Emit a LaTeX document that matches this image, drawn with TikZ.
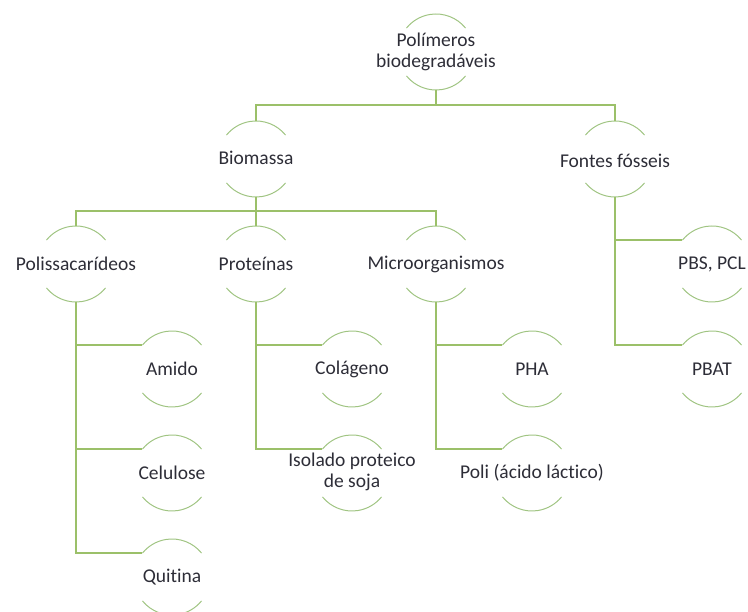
\documentclass[tikz,border=0pt]{standalone}
\usepackage{fontspec}
\setmainfont{Carlito}[Ligatures=NoCommon]
\definecolor{conncol}{RGB}{155,192,105}
\definecolor{arccol}{RGB}{160,196,130}
\definecolor{txtcol}{RGB}{45,45,55}
\tikzset{
  lbl/.style={inner sep=0pt, align=center, text=txtcol, font=\fontsize{19.5}{20.5}\selectfont},
  conn/.style={draw=conncol, line width=1.3pt},
  arcline/.style={draw=arccol, line width=1pt},
}
% name, center, text, text yshift
\newcommand\hierNode[4]{%
  \coordinate (#1) at (#2);
  \node[lbl] (#1-t) at ([yshift=#4]#1) {#3};
  \draw[arcline] ([shift={(39:38)}]#1) arc[start angle=39,end angle=141,radius=38];
  \draw[arcline] ([shift={(-141:38)}]#1) arc[start angle=-141,end angle=-39,radius=38];
}
\begin{document}
\begin{tikzpicture}[x=1pt,y=1pt]
\useasboundingbox (0,0) rectangle (748,612);
\hierNode{root}{436,560}{Polímeros\\biodegradáveis}{0pt}
\hierNode{bio}{256,453}{Biomassa}{1pt}
\hierNode{fos}{615,453}{Fontes fósseis}{-2pt}
\hierNode{poly}{76,348}{Polissacarídeos}{0pt}
\hierNode{prot}{256,348}{Proteínas}{0pt}
\hierNode{micro}{436,348}{Microorganismos}{0pt}
\hierNode{amido}{172,243}{Amido}{0pt}
\hierNode{celu}{172,139}{Celulose}{0pt}
\hierNode{quit}{172,35}{Quitina}{0pt}
\hierNode{col}{352,243}{Colágeno}{0pt}
\hierNode{iso}{352,139}{Isolado proteico\\de soja}{1pt}
\hierNode{pha}{532,243}{PHA}{0pt}
\hierNode{poli}{532,139}{Poli (ácido láctico)}{0pt}
\hierNode{pbs}{712,348}{PBS, PCL}{0pt}
\hierNode{pbat}{712,243}{PBAT}{0pt}
% level 1
\draw[conn] ([yshift=-38pt]root) -- ++(0,-15) -| ([yshift=38pt]bio);
\draw[conn] ([yshift=-38pt]root) -- ++(0,-15) -| ([yshift=38pt]fos);
% level 2
\draw[conn] ([yshift=-38pt]bio) -- ++(0,-14) -| ([yshift=38pt]poly);
\draw[conn] ([yshift=-38pt]bio) -- ([yshift=38pt]prot);
\draw[conn] ([yshift=-38pt]bio) -- ++(0,-14) -| ([yshift=38pt]micro);
% leaves
\draw[conn] ([yshift=-38pt]poly) |- ([shift={(141:38)}]amido);
\draw[conn] ([yshift=-38pt]poly) |- ([shift={(141:38)}]celu);
\draw[conn] ([yshift=-38pt]poly) |- ([shift={(141:38)}]quit);
\draw[conn] ([yshift=-38pt]prot) |- ([shift={(141:38)}]col);
\draw[conn] ([yshift=-38pt]prot) |- ([shift={(141:38)}]iso);
\draw[conn] ([yshift=-38pt]micro) |- ([shift={(141:38)}]pha);
\draw[conn] ([yshift=-38pt]micro) |- ([shift={(141:38)}]poli);
\draw[conn] ([yshift=-38pt]fos) |- ([shift={(141:38)}]pbs);
\draw[conn] ([yshift=-38pt]fos) |- ([shift={(141:38)}]pbat);
\end{tikzpicture}
\end{document}
